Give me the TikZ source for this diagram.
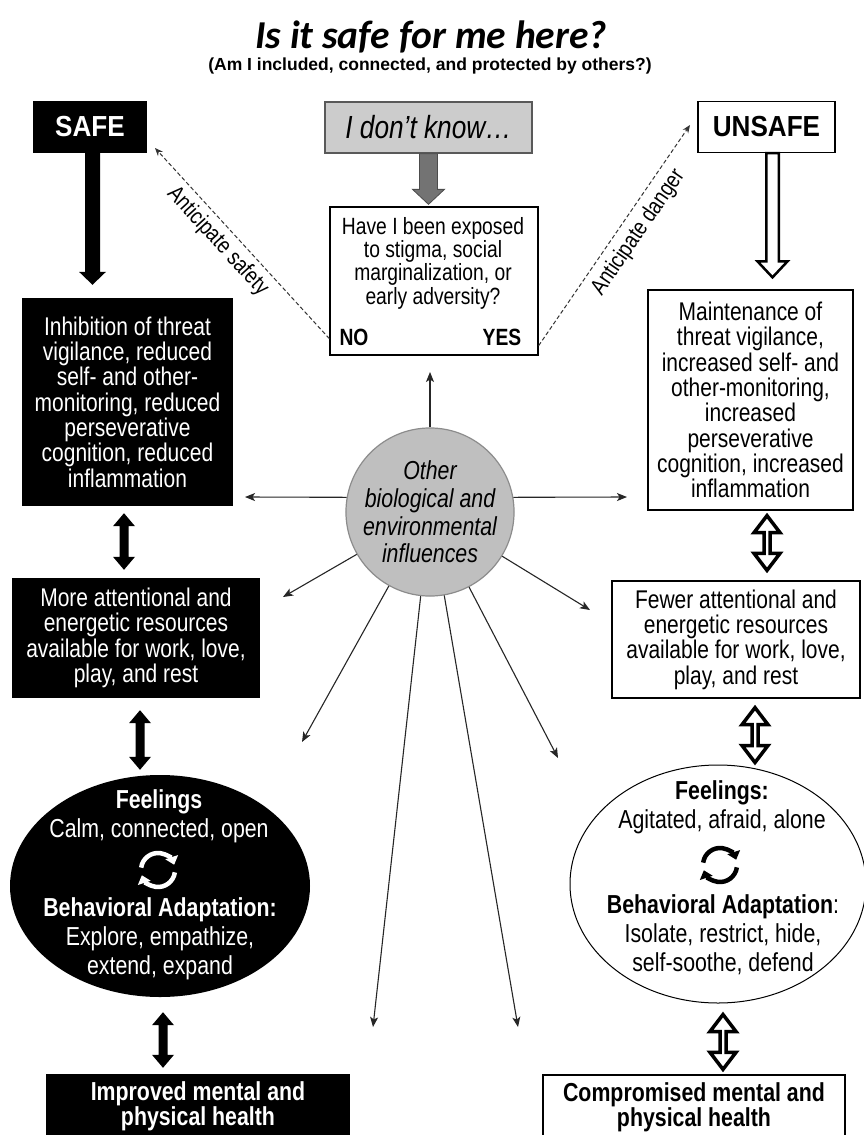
\documentclass[tikz,border=0pt]{standalone}
\usepackage{fontspec}
\setmainfont{Liberation Sans}[FakeStretch=0.82]
\newfontfamily\widefont{Liberation Sans}
\newfontfamily\midfont{Liberation Sans}[FakeStretch=0.9]
\newfontfamily\titlefont{Carlito}
\usetikzlibrary{arrows.meta,calc,shapes.geometric}
\newcommand\fs[2]{\fontsize{#1}{#2}\selectfont}
% block arrow pointing down: style, top point, tip point, shaft half width, head half width, head length
\newcommand\blockdown[6]{%
 \path[#1] let \p1=#2, \p2=#3 in
 ({\x1-#4pt},\y1) -- ({\x1+#4pt},\y1) -- ({\x1+#4pt},{\y2+#6pt}) -- ({\x1+#5pt},{\y2+#6pt}) -- (\x1,\y2) -- ({\x1-#5pt},{\y2+#6pt}) -- ({\x1-#4pt},{\y2+#6pt}) -- cycle;}
% double headed vertical block arrow: style, top tip, bottom tip, shaft half width, head half width, head length
\newcommand\blockboth[6]{%
 \path[#1] let \p1=#2, \p2=#3 in
 (\x1,\y1) -- ({\x1+#5pt},{\y1-#6pt}) -- ({\x1+#4pt},{\y1-#6pt}) -- ({\x1+#4pt},{\y2+#6pt}) -- ({\x1+#5pt},{\y2+#6pt}) -- (\x1,\y2) -- ({\x1-#5pt},{\y2+#6pt}) -- ({\x1-#4pt},{\y2+#6pt}) -- ({\x1-#4pt},{\y1-#6pt}) -- ({\x1-#5pt},{\y1-#6pt}) -- cycle;}
\tikzset{
 bbox/.style={rectangle, fill=black, text=white, inner sep=0pt, align=center},
 wbox/.style={rectangle, draw=black, line width=1.3pt, fill=white, inner sep=0pt, align=center},
 gbox/.style={rectangle, draw=black!65, line width=1.3pt, fill=black!20, inner sep=0pt, align=center},
 body/.style={font=\fs{25.6}{25.3}},
 ray/.style={draw=black!85, line width=1.1pt, -{Stealth[length=10pt,width=8pt,inset=2.5pt]}},
 dasharrow/.style={draw=black!80, line width=1pt, dash pattern=on 4pt off 2.5pt, -{Stealth[length=8pt,width=6.5pt]}},
 lbl/.style={font=\fs{23}{24}, text=black},
 fatblack/.style={fill=black},
 fatgray/.style={fill=black!55, draw=black!70, line width=0.8pt},
 fathollow/.style={fill=white, draw=black, line width=2.5pt},
 dblhollow/.style={fill=white, draw=black, line width=3.5pt},
 cycw/.style={draw=white, line width=4.5pt, -{Triangle[length=8pt,width=13pt]}},
 cycb/.style={draw=black, line width=4.5pt, -{Triangle[length=8pt,width=13pt]}},
 etext/.style={inner sep=0pt, align=center, font=\fs{26}{29}},
 bigword/.style={font=\midfont\bfseries\fs{29}{30}},
}
\begin{document}
\begin{tikzpicture}[x=1pt,y=1pt]
\useasboundingbox (0,0) rectangle (864,-1135);
\fill[white] (0,0) rectangle (864,-1135);

% title
\node[anchor=base, inner sep=0pt, font=\titlefont\bfseries\itshape\fs{39.5}{42}] (title) at (431,-48) {Is it safe for me here?};
\node[anchor=base, inner sep=0pt, font=\widefont\bfseries\fs{17.5}{20}] (sub) at (430,-70) {(Am I included, connected, and protected by others?)};

% top row
\node[bbox, bigword, minimum width=114pt, minimum height=52pt] (safe) at (90,-126.5) {SAFE};
\node[gbox, minimum width=207pt, minimum height=51pt, font=\itshape\fs{32}{32}] (dk) at (428.5,-127.5) {I don’t know…};
\node[wbox, bigword, minimum width=137pt, minimum height=51pt] (unsafe) at (766.5,-127) {UNSAFE};

% question box
\node[wbox, minimum width=208pt, minimum height=148pt] (have) at (434,-281) {};
\node[inner sep=0pt, align=center, font=\fs{23.5}{23.3}] (haveq) at (433,-263) {Have I been exposed\\to stigma, social\\marginalization, or\\early adversity?};
\node[inner sep=0pt, font=\bfseries\fs{23.5}{23}] (no) at (354,-337) {NO};
\node[inner sep=0pt, font=\bfseries\fs{23.5}{23}] (yes) at (502,-337) {YES};

% second row
\node[bbox, body, minimum width=211pt, minimum height=208pt] (inh) at (127.5,-402) {Inhibition of threat\\vigilance, reduced\\self- and other-\\monitoring, reduced\\perseverative\\cognition, reduced\\inflammation};
\node[wbox, body, minimum width=205pt, minimum height=220pt] (maint) at (750.5,-400) {Maintenance of\\threat vigilance,\\increased self- and\\other-monitoring,\\increased\\perseverative\\cognition, increased\\inflammation};

% centre circle
\node[circle, draw=black!45, line width=1.2pt, fill=black!25, minimum size=166pt, inner sep=0pt, align=center, font=\itshape\fs{26}{27.7}] (circ) at (430,-512) {Other\\biological and\\environmental\\influences};

% third row
\node[bbox, body, minimum width=248pt, minimum height=120pt] (more) at (136,-638) {More attentional and\\energetic resources\\available for work, love,\\play, and rest};
\node[wbox, body, minimum width=248pt, minimum height=117pt] (fewer) at (736,-639.5) {Fewer attentional and\\energetic resources\\available for work, love,\\play, and rest};

% ellipses
\node[ellipse, fill=black, minimum width=300pt, minimum height=222pt, inner sep=0pt] (lell) at (160,-886) {};
\node[ellipse, draw=black, line width=1pt, fill=white, minimum width=296pt, minimum height=238pt, inner sep=0pt] (rell) at (718,-884) {};

\node[etext, text=white] (lfeel) at (159,-816.5) {\textbf{Feelings}\\Calm, connected, open};
\node[etext, text=white] (lbeh) at (160,-939) {\textbf{Behavioral Adaptation:}\\Explore, empathize,\\extend, expand};
\node[etext] (rfeel) at (722,-807) {\textbf{Feelings:}\\Agitated, afraid, alone};
\node[etext] (rbeh) at (723,-934.5) {\textbf{Behavioral Adaptation}:\\Isolate, restrict, hide,\\self-soothe, defend};

% cycle icons
\coordinate (licon) at (158,-870);
\draw[cycw] ([shift={(172:17pt)}]licon) arc[start angle=172, end angle=18, radius=17pt];
\draw[cycw] ([shift={(-8:17pt)}]licon) arc[start angle=-8, end angle=-162, radius=17pt];
\coordinate (ricon) at (720,-865);
\draw[cycb] ([shift={(172:17pt)}]ricon) arc[start angle=172, end angle=18, radius=17pt];
\draw[cycb] ([shift={(-8:17pt)}]ricon) arc[start angle=-8, end angle=-162, radius=17pt];

% bottom row
\node[bbox, minimum width=304pt, minimum height=64pt, font=\bfseries\fs{26}{25}] (impr) at (198,-1106) {Improved mental and\\physical health};
\node[wbox, minimum width=302pt, minimum height=64pt, font=\bfseries\fs{26}{25}] (comp) at (694,-1107) {Compromised mental and\\physical health};

% fat arrows
\blockdown{fatblack}{($(safe.south)+(2.5,0)$)}{($(inh.north)+(0,13)$)}{7.5}{13.5}{13}
\blockdown{fatgray}{($(dk.south)+(0,0)$)}{($(have.north)+(0,2)$)}{9}{16}{15}
\blockdown{fathollow}{($(unsafe.south)+(6,0)$)}{($(maint.north)+(0,12)$)}{6.25}{15}{16}

\blockboth{fatblack}{($(inh.south)+(-3.5,-7)$)}{($(more.north)+(0,8)$)}{4.5}{11}{13}
\blockboth{fatblack}{($(more.south)+(4,-12)$)}{($(lell.north)+(0,5)$)}{4.5}{11}{13}
\blockboth{fatblack}{($(lell.south)+(3,-15)$)}{($(impr.north)+(0,6)$)}{4.5}{11}{13}
\blockboth{dblhollow}{($(maint.south)+(16.5,-5)$)}{($(fewer.north)+(0,10)$)}{3}{13}{17}
\blockboth{dblhollow}{($(fewer.south)+(19,-9)$)}{($(rell.north)+(0,2)$)}{3}{13}{17}
\blockboth{dblhollow}{($(rell.south)+(5,-11)$)}{($(comp.north)+(0,5)$)}{3}{13}{17}

% dashed anticipation arrows
\coordinate (tsafe) at (155,-148);
\coordinate (tunsafe) at (690,-125);
\draw[dasharrow] ($(have.south west)+(0,17)$) -- node[lbl, sloped, below, pos=0.57, inner sep=5.5pt] (lsafe) {Anticipate safety} (tsafe);
\draw[dasharrow] ($(have.south east)+(0,10)$) -- node[lbl, sloped, below, pos=0.56, inner sep=7pt] (ldanger) {Anticipate danger} (tunsafe);

% radiating influences
\coordinate (t1) at (430,-372);
\coordinate (t2) at (245,-497);
\coordinate (t3) at (627,-497);
\coordinate (t4) at (283,-597);
\coordinate (t5) at (590,-610);
\coordinate (t6) at (302,-742);
\coordinate (t7) at (558,-758);
\coordinate (t8) at (373,-1027);
\coordinate (t9) at (518,-1027);
\draw[ray] (circ.north) -- (t1);
\draw[ray] (circ.170) -- (t2);
\draw[ray] (circ.10) -- (t3);
\draw[ray] (circ) -- (t4);
\draw[ray] (circ) -- (t5);
\draw[ray] (circ) -- (t6);
\draw[ray] (circ) -- (t7);
\draw[ray] (circ) -- (t8);
\draw[ray] (circ) -- (t9);
\end{tikzpicture}
\end{document}
